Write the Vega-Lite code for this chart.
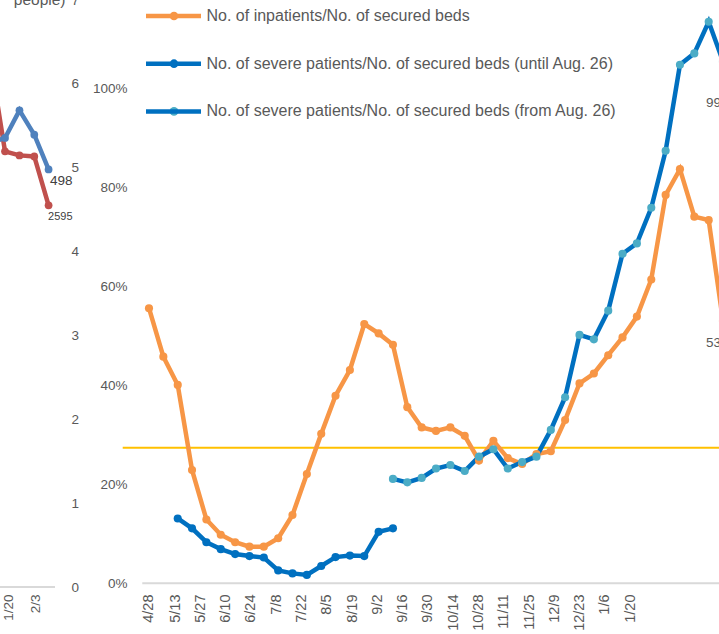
{
  "$schema": "https://vega.github.io/schema/vega-lite/v6.json",
  "width": 719,
  "height": 587,
  "autosize": {"type": "none"},
  "padding": {"left": 0, "top": 0, "right": 0, "bottom": 47},
  "background": "white",
  "config": {
    "view": {"stroke": null},
    "font": "Liberation Sans",
    "axis": {"grid": false, "domain": false, "ticks": false, "labelColor": "#595959", "labelFontSize": 13.5, "labelFont": "Liberation Sans"},
    "legend": {"labelFont": "Liberation Sans"}
  },
  "datasets": {
    "left": [
      {"series": "Series 1", "date": "2021-01-10T18:00", "value": 6.29},
      {"series": "Series 1", "date": "2021-01-18T07:00", "value": 5.195},
      {"series": "Series 1", "date": "2021-01-25T19:00", "value": 5.147},
      {"series": "Series 1", "date": "2021-02-02T11:00", "value": 5.135},
      {"series": "Series 1", "date": "2021-02-09T21:00", "value": 4.551},
      {"series": "Series 2", "date": "2021-01-10T18:00", "value": 5.30},
      {"series": "Series 2", "date": "2021-01-18T07:00", "value": 5.355},
      {"series": "Series 2", "date": "2021-01-25T19:00", "value": 5.684},
      {"series": "Series 2", "date": "2021-02-02T11:00", "value": 5.394},
      {"series": "Series 2", "date": "2021-02-09T21:00", "value": 4.98}
    ],
    "leftLabels": [
      {"series": "Series 2", "date": "2021-02-09T21:00", "value": 4.98, "label": "498"},
      {"series": "Series 1", "date": "2021-02-09T21:00", "value": 4.551, "label": "2595"}
    ],
    "leftAxisLine": [
      {"date": "2021-01-15T16:48", "date2": "2021-02-13T05:00", "value": 0}
    ],
    "mainRefLines": [
      {"line": "axis", "date": "2020-04-24T20:00", "date2": "2021-06-01T00:00", "value": 0},
      {"line": "threshold", "date": "2020-04-14T00:00", "date2": "2021-06-01T00:00", "value": 0.274}
    ],
    "main": [
      {"series": "No. of inpatients/No. of secured beds", "date": "2020-04-28T13:00", "value": 0.556},
      {"series": "No. of inpatients/No. of secured beds", "date": "2020-05-06T12:00", "value": 0.458},
      {"series": "No. of inpatients/No. of secured beds", "date": "2020-05-14T11:00", "value": 0.401},
      {"series": "No. of inpatients/No. of secured beds", "date": "2020-05-22T09:00", "value": 0.229},
      {"series": "No. of inpatients/No. of secured beds", "date": "2020-05-30T08:00", "value": 0.129},
      {"series": "No. of inpatients/No. of secured beds", "date": "2020-06-07T07:00", "value": 0.098},
      {"series": "No. of inpatients/No. of secured beds", "date": "2020-06-15T06:00", "value": 0.083},
      {"series": "No. of inpatients/No. of secured beds", "date": "2020-06-23T04:00", "value": 0.074},
      {"series": "No. of inpatients/No. of secured beds", "date": "2020-07-01T03:00", "value": 0.074},
      {"series": "No. of inpatients/No. of secured beds", "date": "2020-07-09T02:00", "value": 0.091},
      {"series": "No. of inpatients/No. of secured beds", "date": "2020-07-17T00:00", "value": 0.138},
      {"series": "No. of inpatients/No. of secured beds", "date": "2020-07-24T23:00", "value": 0.221},
      {"series": "No. of inpatients/No. of secured beds", "date": "2020-08-01T22:00", "value": 0.302},
      {"series": "No. of inpatients/No. of secured beds", "date": "2020-08-09T20:00", "value": 0.379},
      {"series": "No. of inpatients/No. of secured beds", "date": "2020-08-17T19:00", "value": 0.431},
      {"series": "No. of inpatients/No. of secured beds", "date": "2020-08-25T18:00", "value": 0.524},
      {"series": "No. of inpatients/No. of secured beds", "date": "2020-09-02T17:00", "value": 0.505},
      {"series": "No. of inpatients/No. of secured beds", "date": "2020-09-10T15:00", "value": 0.482},
      {"series": "No. of inpatients/No. of secured beds", "date": "2020-09-18T14:00", "value": 0.356},
      {"series": "No. of inpatients/No. of secured beds", "date": "2020-09-26T13:00", "value": 0.315},
      {"series": "No. of inpatients/No. of secured beds", "date": "2020-10-04T11:00", "value": 0.308},
      {"series": "No. of inpatients/No. of secured beds", "date": "2020-10-12T10:00", "value": 0.315},
      {"series": "No. of inpatients/No. of secured beds", "date": "2020-10-20T09:00", "value": 0.298},
      {"series": "No. of inpatients/No. of secured beds", "date": "2020-10-28T07:00", "value": 0.248},
      {"series": "No. of inpatients/No. of secured beds", "date": "2020-11-05T06:00", "value": 0.288},
      {"series": "No. of inpatients/No. of secured beds", "date": "2020-11-13T05:00", "value": 0.253},
      {"series": "No. of inpatients/No. of secured beds", "date": "2020-11-21T04:00", "value": 0.241},
      {"series": "No. of inpatients/No. of secured beds", "date": "2020-11-29T02:00", "value": 0.261},
      {"series": "No. of inpatients/No. of secured beds", "date": "2020-12-07T01:00", "value": 0.267},
      {"series": "No. of inpatients/No. of secured beds", "date": "2020-12-14T23:00", "value": 0.330},
      {"series": "No. of inpatients/No. of secured beds", "date": "2020-12-22T22:00", "value": 0.404},
      {"series": "No. of inpatients/No. of secured beds", "date": "2020-12-30T21:00", "value": 0.424},
      {"series": "No. of inpatients/No. of secured beds", "date": "2021-01-07T20:00", "value": 0.461},
      {"series": "No. of inpatients/No. of secured beds", "date": "2021-01-15T18:00", "value": 0.497},
      {"series": "No. of inpatients/No. of secured beds", "date": "2021-01-23T17:00", "value": 0.539},
      {"series": "No. of inpatients/No. of secured beds", "date": "2021-01-31T16:00", "value": 0.614},
      {"series": "No. of inpatients/No. of secured beds", "date": "2021-02-08T15:00", "value": 0.785},
      {"series": "No. of inpatients/No. of secured beds", "date": "2021-02-16T13:00", "value": 0.837},
      {"series": "No. of inpatients/No. of secured beds", "date": "2021-02-24T12:00", "value": 0.741},
      {"series": "No. of inpatients/No. of secured beds", "date": "2021-03-04T11:00", "value": 0.734},
      {"series": "No. of inpatients/No. of secured beds", "date": "2021-03-12T09:00", "value": 0.530},
      {"series": "No. of severe patients/No. of secured beds (until Aug. 26)", "date": "2020-05-14T11:00", "value": 0.131},
      {"series": "No. of severe patients/No. of secured beds (until Aug. 26)", "date": "2020-05-22T09:00", "value": 0.111},
      {"series": "No. of severe patients/No. of secured beds (until Aug. 26)", "date": "2020-05-30T08:00", "value": 0.083},
      {"series": "No. of severe patients/No. of secured beds (until Aug. 26)", "date": "2020-06-07T07:00", "value": 0.069},
      {"series": "No. of severe patients/No. of secured beds (until Aug. 26)", "date": "2020-06-15T06:00", "value": 0.059},
      {"series": "No. of severe patients/No. of secured beds (until Aug. 26)", "date": "2020-06-23T04:00", "value": 0.055},
      {"series": "No. of severe patients/No. of secured beds (until Aug. 26)", "date": "2020-07-01T03:00", "value": 0.052},
      {"series": "No. of severe patients/No. of secured beds (until Aug. 26)", "date": "2020-07-09T02:00", "value": 0.026},
      {"series": "No. of severe patients/No. of secured beds (until Aug. 26)", "date": "2020-07-17T00:00", "value": 0.020},
      {"series": "No. of severe patients/No. of secured beds (until Aug. 26)", "date": "2020-07-24T23:00", "value": 0.017},
      {"series": "No. of severe patients/No. of secured beds (until Aug. 26)", "date": "2020-08-01T22:00", "value": 0.035},
      {"series": "No. of severe patients/No. of secured beds (until Aug. 26)", "date": "2020-08-09T20:00", "value": 0.053},
      {"series": "No. of severe patients/No. of secured beds (until Aug. 26)", "date": "2020-08-17T19:00", "value": 0.056},
      {"series": "No. of severe patients/No. of secured beds (until Aug. 26)", "date": "2020-08-25T18:00", "value": 0.055},
      {"series": "No. of severe patients/No. of secured beds (until Aug. 26)", "date": "2020-09-02T17:00", "value": 0.104},
      {"series": "No. of severe patients/No. of secured beds (until Aug. 26)", "date": "2020-09-10T15:00", "value": 0.111},
      {"series": "No. of severe patients/No. of secured beds (from Aug. 26)", "date": "2020-09-10T15:00", "value": 0.211},
      {"series": "No. of severe patients/No. of secured beds (from Aug. 26)", "date": "2020-09-18T14:00", "value": 0.204},
      {"series": "No. of severe patients/No. of secured beds (from Aug. 26)", "date": "2020-09-26T13:00", "value": 0.213},
      {"series": "No. of severe patients/No. of secured beds (from Aug. 26)", "date": "2020-10-04T11:00", "value": 0.232},
      {"series": "No. of severe patients/No. of secured beds (from Aug. 26)", "date": "2020-10-12T10:00", "value": 0.239},
      {"series": "No. of severe patients/No. of secured beds (from Aug. 26)", "date": "2020-10-20T09:00", "value": 0.227},
      {"series": "No. of severe patients/No. of secured beds (from Aug. 26)", "date": "2020-10-28T07:00", "value": 0.256},
      {"series": "No. of severe patients/No. of secured beds (from Aug. 26)", "date": "2020-11-05T06:00", "value": 0.271},
      {"series": "No. of severe patients/No. of secured beds (from Aug. 26)", "date": "2020-11-13T05:00", "value": 0.232},
      {"series": "No. of severe patients/No. of secured beds (from Aug. 26)", "date": "2020-11-21T04:00", "value": 0.245},
      {"series": "No. of severe patients/No. of secured beds (from Aug. 26)", "date": "2020-11-29T02:00", "value": 0.256},
      {"series": "No. of severe patients/No. of secured beds (from Aug. 26)", "date": "2020-12-07T01:00", "value": 0.310},
      {"series": "No. of severe patients/No. of secured beds (from Aug. 26)", "date": "2020-12-14T23:00", "value": 0.376},
      {"series": "No. of severe patients/No. of secured beds (from Aug. 26)", "date": "2020-12-22T22:00", "value": 0.502},
      {"series": "No. of severe patients/No. of secured beds (from Aug. 26)", "date": "2020-12-30T21:00", "value": 0.493},
      {"series": "No. of severe patients/No. of secured beds (from Aug. 26)", "date": "2021-01-07T20:00", "value": 0.551},
      {"series": "No. of severe patients/No. of secured beds (from Aug. 26)", "date": "2021-01-15T18:00", "value": 0.666},
      {"series": "No. of severe patients/No. of secured beds (from Aug. 26)", "date": "2021-01-23T17:00", "value": 0.687},
      {"series": "No. of severe patients/No. of secured beds (from Aug. 26)", "date": "2021-01-31T16:00", "value": 0.759},
      {"series": "No. of severe patients/No. of secured beds (from Aug. 26)", "date": "2021-02-08T15:00", "value": 0.874},
      {"series": "No. of severe patients/No. of secured beds (from Aug. 26)", "date": "2021-02-16T13:00", "value": 1.048},
      {"series": "No. of severe patients/No. of secured beds (from Aug. 26)", "date": "2021-02-24T12:00", "value": 1.071},
      {"series": "No. of severe patients/No. of secured beds (from Aug. 26)", "date": "2021-03-04T11:00", "value": 1.135},
      {"series": "No. of severe patients/No. of secured beds (from Aug. 26)", "date": "2021-03-12T09:00", "value": 1.055}
    ],
    "mainLabels": [
      {"series": "No. of severe patients/No. of secured beds (from Aug. 26)", "date": "2021-03-12T09:00", "value": 0.99, "label": "99%"},
      {"series": "No. of inpatients/No. of secured beds", "date": "2021-03-12T09:00", "value": 0.53, "label": "53%"}
    ]
  },
  "layer": [
    {
      "data": {"name": "left"},
      "encoding": {
        "x": {
          "field": "date", "type": "temporal",
          "scale": {"domain": [{"year": 2021, "month": 1, "date": 15, "hours": 16, "minutes": 48}, {"year": 2022, "month": 1, "date": 23, "hours": 5, "minutes": 45}]},
          "axis": {"orient": "bottom", "values": [{"year": 2021, "month": 1, "date": 20}, {"year": 2021, "month": 2, "date": 3}], "format": "%-m/%-d", "labelAngle": -90, "labelPadding": 7, "labelOverlap": false, "title": null}
        },
        "y": {
          "field": "value", "type": "quantitative",
          "scale": {"domain": [0, 7], "nice": false, "zero": false},
          "axis": {"orient": "right", "offset": -648, "labelPadding": 0, "values": [0, 1, 2, 3, 4, 5, 6, 7], "format": "d", "title": "people)", "titleAngle": 0, "titleAlign": "right", "titleBaseline": "bottom", "titleX": -6, "titleY": 7, "titleFontSize": 15.5, "titleFontWeight": "normal", "titleColor": "#595959", "titleFont": "Liberation Sans"}
        }
      },
      "layer": [
        {
          "data": {"name": "leftAxisLine"},
          "mark": {"type": "rule", "color": "#D9D9D9", "strokeWidth": 2},
          "encoding": {"x2": {"field": "date2"}}
        },
        {
          "transform": [{"filter": "datum.series === 'Series 1'"}],
          "mark": {"type": "line", "color": "#C0504D", "strokeWidth": 4.5, "clip": true}
        },
        {
          "transform": [{"filter": "datum.series === 'Series 1'"}],
          "mark": {"type": "point", "filled": true, "opacity": 1, "color": "#C0504D", "size": 60, "clip": true}
        },
        {
          "transform": [{"filter": "datum.series === 'Series 2'"}],
          "mark": {"type": "line", "color": "#4F81BD", "strokeWidth": 4.5, "clip": true}
        },
        {
          "transform": [{"filter": "datum.series === 'Series 2'"}],
          "mark": {"type": "point", "filled": true, "opacity": 1, "color": "#4F81BD", "size": 60, "clip": true}
        },
        {
          "data": {"name": "leftLabels"},
          "transform": [{"filter": "datum.label === '498'"}],
          "mark": {"type": "text", "align": "left", "baseline": "middle", "dx": 1.5, "dy": 12, "fontSize": 13.5, "color": "#404040", "font": "Liberation Sans"},
          "encoding": {"text": {"field": "label"}}
        },
        {
          "data": {"name": "leftLabels"},
          "transform": [{"filter": "datum.label === '2595'"}],
          "mark": {"type": "text", "align": "left", "baseline": "middle", "dx": -0.5, "dy": 12, "fontSize": 11, "color": "#404040", "font": "Liberation Sans"},
          "encoding": {"text": {"field": "label"}}
        }
      ]
    },
    {
      "data": {"name": "main"},
      "encoding": {
        "x": {
          "field": "date", "type": "temporal",
          "scale": {"domain": [{"year": 2020, "month": 2, "date": 6, "hours": 1, "minutes": 13}, {"year": 2021, "month": 3, "date": 10, "hours": 4}]},
          "axis": {
            "orient": "bottom",
            "values": [
              {"year": 2020, "month": 4, "date": 28}, {"year": 2020, "month": 5, "date": 13}, {"year": 2020, "month": 5, "date": 27},
              {"year": 2020, "month": 6, "date": 10}, {"year": 2020, "month": 6, "date": 24}, {"year": 2020, "month": 7, "date": 8},
              {"year": 2020, "month": 7, "date": 22}, {"year": 2020, "month": 8, "date": 5}, {"year": 2020, "month": 8, "date": 19},
              {"year": 2020, "month": 9, "date": 2}, {"year": 2020, "month": 9, "date": 16}, {"year": 2020, "month": 9, "date": 30},
              {"year": 2020, "month": 10, "date": 14}, {"year": 2020, "month": 10, "date": 28}, {"year": 2020, "month": 11, "date": 11},
              {"year": 2020, "month": 11, "date": 25}, {"year": 2020, "month": 12, "date": 9}, {"year": 2020, "month": 12, "date": 23},
              {"year": 2021, "month": 1, "date": 6}, {"year": 2021, "month": 1, "date": 20}
            ],
            "format": "%-m/%-d", "labelAngle": -90, "labelPadding": 7, "labelFontSize": 14.5, "labelOverlap": false, "title": null
          }
        },
        "y": {
          "field": "value", "type": "quantitative",
          "scale": {"domain": [-0.0075, 1.1789], "nice": false, "zero": false},
          "axis": {"orient": "left", "offset": -142, "labelPadding": 15, "values": [0, 0.2, 0.4, 0.6, 0.8, 1], "format": ".0%", "title": null}
        }
      },
      "layer": [
        {
          "data": {"name": "mainRefLines"},
          "transform": [{"filter": "datum.line === 'axis'"}],
          "mark": {"type": "rule", "color": "#D9D9D9", "strokeWidth": 2, "clip": true},
          "encoding": {"x2": {"field": "date2"}}
        },
        {
          "data": {"name": "mainRefLines"},
          "transform": [{"filter": "datum.line === 'threshold'"}],
          "mark": {"type": "rule", "color": "#FFC000", "strokeWidth": 2, "clip": true},
          "encoding": {"x2": {"field": "date2"}}
        },
        {
          "mark": {"type": "line", "strokeWidth": 4.5, "clip": true},
          "encoding": {
            "color": {
              "field": "series", "type": "nominal",
              "scale": {
                "domain": ["No. of inpatients/No. of secured beds", "No. of severe patients/No. of secured beds (until Aug. 26)", "No. of severe patients/No. of secured beds (from Aug. 26)"],
                "range": ["#F79646", "#0070C0", "#0070C0"]
              },
              "legend": {"orient": "none", "legendX": 143.5, "legendY": -14, "direction": "vertical", "title": null, "symbolType": "stroke", "symbolSize": 3025, "symbolStrokeWidth": 4.5, "labelFontSize": 16, "labelColor": "#595959", "labelLimit": 700, "labelOffset": 3, "rowPadding": 8.7, "padding": 0}
            }
          }
        },
        {
          "mark": {"type": "point", "filled": true, "opacity": 1, "size": 66, "clip": true},
          "encoding": {
            "fill": {
              "field": "series", "type": "nominal",
              "sort": ["No. of inpatients/No. of secured beds", "No. of severe patients/No. of secured beds (until Aug. 26)", "No. of severe patients/No. of secured beds (from Aug. 26)"],
              "scale": {"range": ["#F79646", "#0070C0", "#4BACC6"]},
              "legend": {"orient": "none", "legendX": 166, "legendY": 8, "direction": "vertical", "title": null, "symbolType": "circle", "symbolSize": 75, "symbolStrokeWidth": 0, "symbolOpacity": 1, "labelFontSize": 16, "labelExpr": "''", "labelLimit": 700, "labelOffset": 3, "rowPadding": 31.7, "padding": 0}
            }
          }
        },
        {
          "data": {"name": "mainLabels"},
          "transform": [{"filter": "datum.label === '99%'"}],
          "mark": {"type": "text", "align": "left", "baseline": "middle", "dx": -17, "dy": 10, "fontSize": 13.5, "color": "#595959", "font": "Liberation Sans"},
          "encoding": {"text": {"field": "label"}}
        },
        {
          "data": {"name": "mainLabels"},
          "transform": [{"filter": "datum.label === '53%'"}],
          "mark": {"type": "text", "align": "left", "baseline": "middle", "dx": -17, "dy": 22, "fontSize": 13.5, "color": "#595959", "font": "Liberation Sans"},
          "encoding": {"text": {"field": "label"}}
        }
      ]
    }
  ],
  "resolve": {"scale": {"x": "independent", "y": "independent", "color": "independent"}}
}
